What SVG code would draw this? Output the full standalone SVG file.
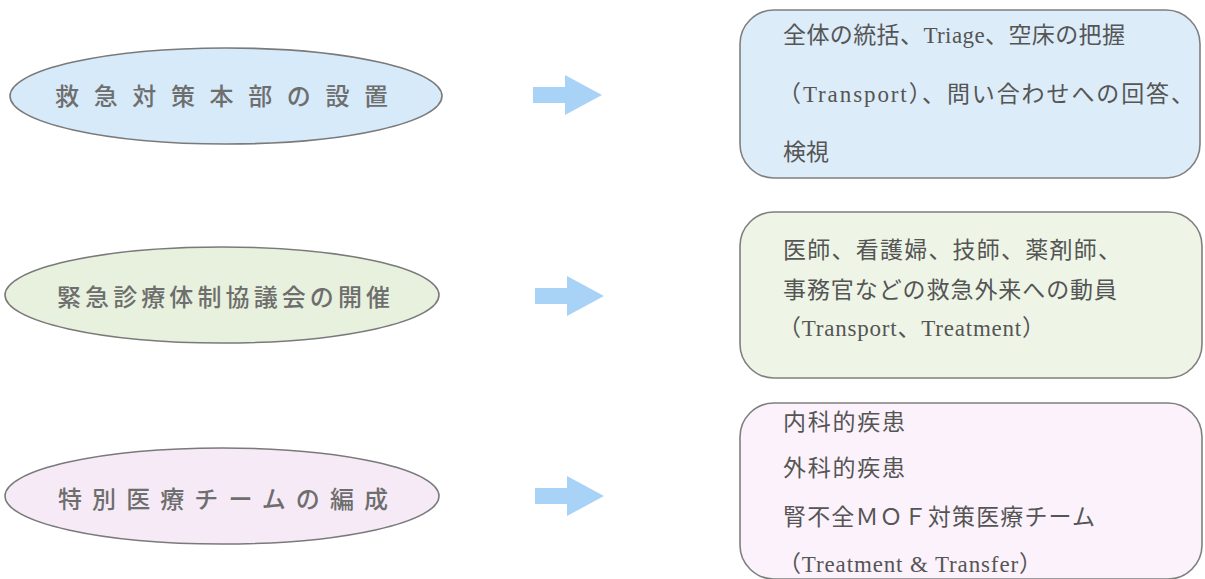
<svg xmlns="http://www.w3.org/2000/svg" width="1205" height="579" viewBox="0 0 1205 579">
<style>
.ell{stroke:#7a7a7a;stroke-width:1.6}
.box{stroke:#7f7f7f;stroke-width:1.6}
.et{font-family:"Noto Sans CJK JP","Liberation Sans",sans-serif;font-size:24px;fill:#6e6e6e;font-weight:500}
.bt{font-family:"Liberation Serif","Noto Sans CJK JP",serif;font-size:23px;fill:#555}
.arr{fill:#a9d3f6}
</style>
<defs>
<polygon id="arrow" points="0,-8 32,-8 32,-20 69,0 32,20 32,8 0,8"/>
</defs>
<rect width="1205" height="579" fill="#fff"/>
<g id="node-e1">
<ellipse class="ell" cx="226" cy="96" rx="216" ry="48" fill="#d6eaf9"/>
<text class="et" x="55" y="105" textLength="333" lengthAdjust="spacing">救急対策本部の設置</text>
</g>
<g id="node-e2">
<ellipse class="ell" cx="222" cy="295" rx="217" ry="48" fill="#e8f1dd"/>
<text class="et" x="57" y="306" textLength="333" lengthAdjust="spacing">緊急診療体制協議会の開催</text>
</g>
<g id="node-e3">
<ellipse class="ell" cx="222" cy="496" rx="217" ry="48" fill="#f6eaf6"/>
<text class="et" x="58" y="508" textLength="330" lengthAdjust="spacing">特別医療チームの編成</text>
</g>
<g id="node-b1">
<rect class="box" x="740" y="10" width="460" height="168" rx="34" fill="#dcecf8"/>
<text class="bt" x="783" y="43" textLength="342" lengthAdjust="spacing">全体の統括、Triage、空床の把握</text>
<text class="bt" x="778" y="102" textLength="416" lengthAdjust="spacing">（Transport）、問い合わせへの回答、</text>
<text class="bt" x="783" y="160">検視</text>
</g>
<g id="node-b2">
<rect class="box" x="740" y="212" width="462" height="166" rx="34" fill="#eef5e6"/>
<text class="bt" x="783" y="258" textLength="338" lengthAdjust="spacing">医師、看護婦、技師、薬剤師、</text>
<text class="bt" x="783" y="298" textLength="334" lengthAdjust="spacing">事務官などの救急外来への動員</text>
<text class="bt" x="778" y="336" textLength="267" lengthAdjust="spacing">（Transport、Treatment）</text>
</g>
<g id="node-b3">
<rect class="box" x="740" y="403" width="462" height="176" rx="34" fill="#fcf2fb"/>
<text class="bt" x="783" y="430" textLength="122" lengthAdjust="spacing">内科的疾患</text>
<text class="bt" x="783" y="476" textLength="122" lengthAdjust="spacing">外科的疾患</text>
<text class="bt" x="783" y="525" textLength="312" lengthAdjust="spacing">腎不全ＭＯＦ対策医療チーム</text>
<text class="bt" x="778" y="572" textLength="264" lengthAdjust="spacing">（Treatment &amp; Transfer）</text>
</g>
<g id="connectors" class="arr">
<use href="#arrow" transform="translate(533,95)"/>
<use href="#arrow" transform="translate(535,296)"/>
<use href="#arrow" transform="translate(535,496)"/>
</g>
</svg>
